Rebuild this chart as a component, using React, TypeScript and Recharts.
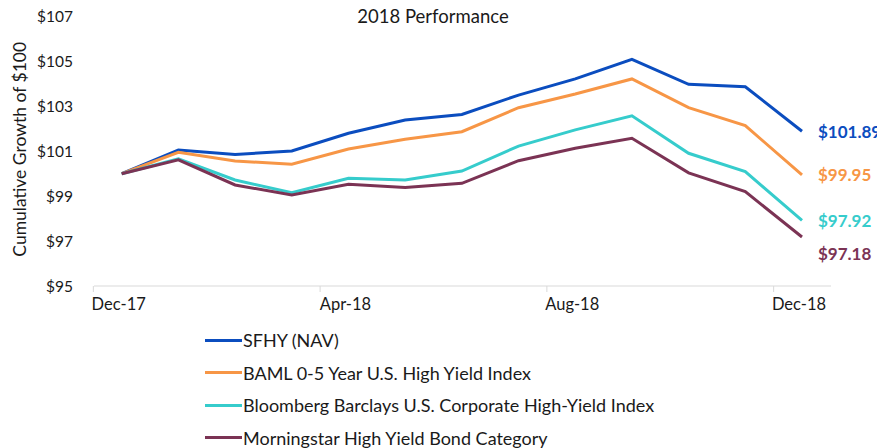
import React from 'react';
import { LineChart, Line, XAxis, YAxis, Legend } from 'recharts';

const months = ['Dec-17', 'Jan-18', 'Feb-18', 'Mar-18', 'Apr-18', 'May-18', 'Jun-18', 'Jul-18', 'Aug-18', 'Sep-18', 'Oct-18', 'Nov-18', 'Dec-18'];
const sfhy = [100, 101.05, 100.86, 101.01, 101.8, 102.39, 102.64, 103.5, 104.22, 105.09, 103.98, 103.87, 101.89];
const baml = [100, 100.95, 100.57, 100.42, 101.1, 101.53, 101.87, 102.94, 103.55, 104.22, 102.94, 102.14, 99.95];
const bloomberg = [100, 100.66, 99.72, 99.15, 99.8, 99.72, 100.12, 101.23, 101.95, 102.58, 100.91, 100.09, 97.92];
const morningstar = [100, 100.62, 99.5, 99.05, 99.53, 99.39, 99.57, 100.58, 101.13, 101.58, 100.04, 99.2, 97.18];
const yTicks = [95, 97, 99, 101, 103, 105, 107];

const seriesDefs = [
  { key: 'sfhy', name: 'SFHY (NAV)', color: '#0B4DBF', labelDy: 0 },
  { key: 'baml', name: 'BAML 0-5 Year U.S. High Yield Index', color: '#F79646', labelDy: 0 },
  { key: 'bloomberg', name: 'Bloomberg Barclays U.S. Corporate High-Yield Index', color: '#36CCCC', labelDy: 0 },
  { key: 'morningstar', name: 'Morningstar High Yield Bond Category', color: '#7B3354', labelDy: 16 },
];

const data = months.map((m, i) => ({
  month: m,
  sfhy: sfhy[i],
  baml: baml[i],
  bloomberg: bloomberg[i],
  morningstar: morningstar[i],
}));

const FONT = 'Lato, "Open Sans", sans-serif';
const W = 877;
const H = 448;
const MARGIN = { top: 16.5, right: 46, bottom: 132, left: 0 };
const Y_AXIS_W = 94;
const PAD_L = 27.7;
const PAD_R = 29;
const PLOT_W = W - MARGIN.left - MARGIN.right - Y_AXIS_W;
const STEP = (PLOT_W - PAD_L - PAD_R) / (months.length - 1);

const XTick = (props: any) => {
  const { x, y, payload } = props;
  return (
    <g>
      <line x1={x - STEP / 2} x2={x - STEP / 2} y1={y} y2={y + 6} stroke="#d9d9d9" strokeWidth={1} />
      <text x={x - 3} y={y + 24} textAnchor="middle" fontFamily={FONT} fontSize={16.5} fill="#1a1a1a">
        {payload.value}
      </text>
    </g>
  );
};

const makeEndLabel = (def: any) => (props: any) => {
  const { cx, cy, index, payload } = props;
  if (index !== months.length - 1) return <g key={`d-${def.key}-${index}`} />;
  return (
    <text
      key={`d-${def.key}-${index}`}
      x={cx + 16}
      y={cy + def.labelDy}
      dominantBaseline="central"
      fontFamily={FONT}
      fontSize={17}
      fontWeight={700}
      fill={def.color}
    >
      {`$${payload[def.key].toFixed(2)}`}
    </text>
  );
};

const LegendContent = () => (
  <div style={{ fontFamily: FONT, fontSize: 18, color: '#1a1a1a' }}>
    {seriesDefs.map((s) => (
      <div key={s.key} style={{ height: 32.5, display: 'flex', alignItems: 'center', whiteSpace: 'nowrap' }}>
        <div style={{ width: 37, height: 3, background: s.color, marginRight: 1 }} />
        <span>{s.name}</span>
      </div>
    ))}
  </div>
);

export default function App() {
  return (
    <div style={{ position: 'absolute', left: 0, top: 0, width: W, height: H, background: '#fff' }}>
      <div
        style={{
          position: 'absolute',
          left: 0,
          width: 866,
          top: 5,
          textAlign: 'center',
          fontFamily: FONT,
          fontSize: 18.5,
          color: '#1a1a1a',
          zIndex: 2,
        }}
      >
        2018 Performance
      </div>
      <LineChart width={W} height={H} data={data} margin={MARGIN}>
        <XAxis
          dataKey="month"
          interval={3}
          padding={{ left: PAD_L, right: PAD_R }}
          axisLine={{ stroke: '#d9d9d9', strokeWidth: 1 }}
          tickLine={false}
          tickSize={0}
          tickMargin={0}
          height={30}
          tick={<XTick />}
        />
        <YAxis
          domain={[95, 107]}
          ticks={yTicks}
          width={Y_AXIS_W}
          axisLine={false}
          tickLine={false}
          tickSize={0}
          tickMargin={21}
          tickFormatter={(v: number) => `$${v}`}
          tick={{ fontFamily: FONT, fontSize: 15.5, fill: '#1a1a1a' }}
          label={{
            content: (p: any) => {
              const vb = p.viewBox || { x: 0, y: 0, height: 0 };
              const cy = vb.y + vb.height / 2 - 2;
              const cx = 19;
              return (
                <text
                  x={cx}
                  y={cy}
                  transform={`rotate(-90, ${cx}, ${cy})`}
                  textAnchor="middle"
                  dominantBaseline="central"
                  fontFamily={FONT}
                  fontSize={17.5}
                  fill="#1a1a1a"
                >
                  Cumulative Growth of $100
                </text>
              );
            },
          }}
        />
        <Legend
          layout="vertical"
          align="center"
          verticalAlign="middle"
          content={<LegendContent />}
          wrapperStyle={{ position: 'absolute', left: 205, top: 323.75, width: 560, height: 130 }}
        />
        {seriesDefs.map((s) => (
          <Line
            key={s.key}
            type="linear"
            dataKey={s.key}
            name={s.name}
            stroke={s.color}
            strokeWidth={3}
            dot={makeEndLabel(s)}
            activeDot={false}
            isAnimationActive={false}
          />
        ))}
      </LineChart>
    </div>
  );
}
